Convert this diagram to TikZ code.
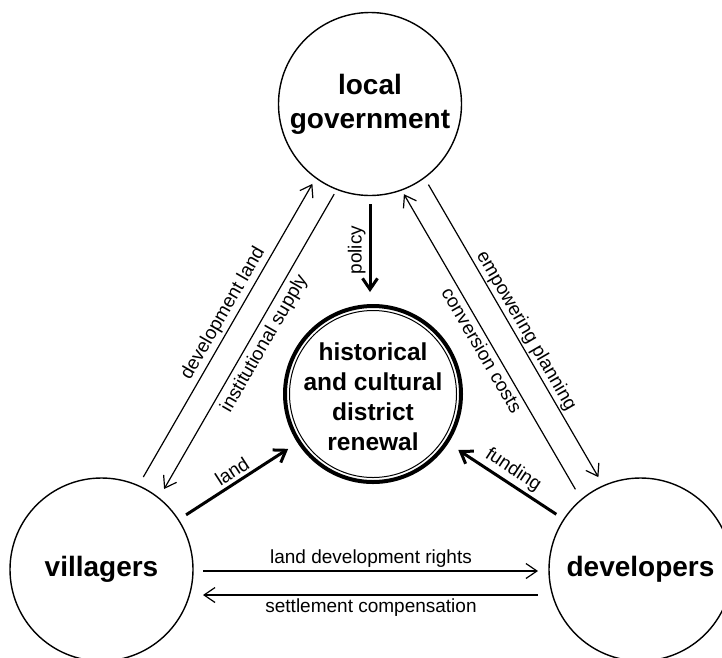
\documentclass[tikz,border=0pt]{standalone}
\usepackage{fontspec}
\setmainfont{Liberation Sans}
\usetikzlibrary{arrows.meta,calc}

\begin{document}
\begin{tikzpicture}[x=1pt,y=-1pt,>={Straight Barb[length=11pt,width=15pt]}]
\path[use as bounding box, clip] (0,0) rectangle (722,657);
\begin{scope}
\tikzstyle{every node}=[font=\fontsize{19}{23}\selectfont];
\tikzstyle{actor}=[shape=circle, draw, line width=1.4pt, minimum size=183pt, inner sep=0pt, align=center, font=\fontsize{28}{34}\selectfont\bfseries];
\tikzstyle{hub}=[shape=circle, draw, line width=4pt, minimum size=176pt, inner sep=0pt];
\tikzstyle{hubtext}=[align=center, font=\fontsize{24.5}{30}\selectfont\bfseries];
\tikzstyle{flow}=[line width=1.2pt];
\tikzstyle{bigflow}=[line width=3pt];
\tikzstyle{lbl}=[sloped, inner sep=3pt];

\draw (370,104) node[actor] (gov) {local\\government};
\draw (101.5,569.5) node[actor] (vil) {villagers};
\draw (640.5,569.5) node[actor] (dev) {developers};
\draw (373,394) node[hub] (hub) {};
\draw[line width=1pt] (hub) circle (83.5pt);
\draw (373,397) node[hubtext] (hubtext) {historical\\and cultural\\district\\renewal};

\draw[flow, ->, shorten <=101pt, shorten >=98pt] ($(vil)!10pt!90:(gov)$) -- node[lbl, above, pos=0.526] {development land} ($(gov)!10pt!-90:(vil)$);
\draw[flow, <-, shorten <=101pt, shorten >=96pt] ($(vil)!14pt!-90:(gov)$) -- node[lbl, below, pos=0.516, inner sep=5pt] {institutional supply} ($(gov)!14pt!90:(vil)$);
\draw[flow, ->, shorten <=99pt, shorten >=101pt] ($(gov)!10pt!90:(dev)$) -- node[lbl, above, pos=0.51, inner sep=1.5pt] {empowering planning} ($(dev)!10pt!-90:(gov)$);
\draw[flow, <-, shorten <=95pt, shorten >=102pt] ($(gov)!16pt!-90:(dev)$) -- node[lbl, below] {conversion costs} ($(dev)!16pt!90:(gov)$);
\draw[flow, ->, shorten <=101.5pt, shorten >=102.5pt] ($(vil)!1.5pt!-90:(dev)$) -- node[lbl, above] {land development rights} ($(dev)!1.5pt!90:(vil)$);
\draw[flow, <-, shorten <=101.5pt, shorten >=102.5pt] ($(vil)!25.5pt!-90:(dev)$) -- node[lbl, below] {settlement compensation} ($(dev)!25.5pt!90:(vil)$);

\draw[bigflow, <-, shorten <=12pt, shorten >=8pt] (hub.north -| gov) -- node[lbl, above, allow upside down] {policy} (gov.south);
\draw[bigflow, ->, shorten <=8.5pt, shorten >=11pt] (vil) -- node[lbl, above] {land} (hub);
\draw[bigflow, <-, shorten <=12pt, shorten >=8.5pt] (hub) -- node[lbl, above] {funding} (dev);
\end{scope}
\end{tikzpicture}
\end{document}
